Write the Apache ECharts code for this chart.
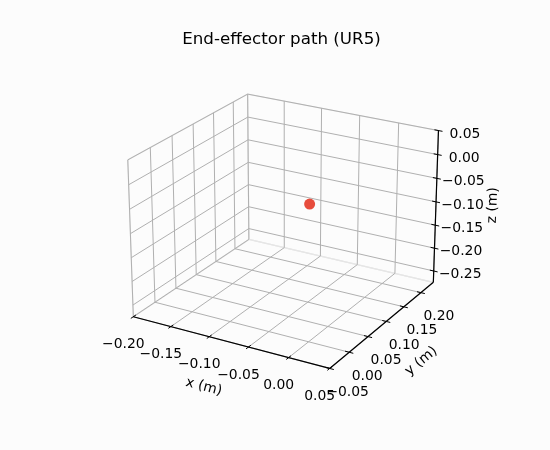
<!DOCTYPE html>
<html><head><meta charset="utf-8">
<script src="https://cdn.jsdelivr.net/npm/echarts@6/dist/echarts.min.js"></script>
<style>html,body{margin:0;padding:0;background:#fcfcfc}#c{width:550px;height:450px}</style>
</head><body><div id="c"></div>
<script>
// ---- chart content ----
const titleText = 'End-effector path (UR5)';
const xAxisName = 'x (m)', yAxisName = 'y (m)', zAxisName = 'z (m)';
const xLimits = [-0.20, 0.05];
const yLimits = [-0.05, 0.2375];
const zLimits = [-0.275, 0.05];
const xTicks = [-0.20, -0.15, -0.10, -0.05, 0.00, 0.05];
const xTickLabels = ['\u22120.20', '\u22120.15', '\u22120.10', '\u22120.05', '0.00', '0.05'];
const yTicks = [-0.05, 0.00, 0.05, 0.10, 0.15, 0.20];
const yTickLabels = ['\u22120.05', '0.00', '0.05', '0.10', '0.15', '0.20'];
const zTicks = [-0.25, -0.20, -0.15, -0.10, -0.05, 0.00, 0.05];
const zTickLabels = ['\u22120.25', '\u22120.20', '\u22120.15', '\u22120.10', '\u22120.05', '0.00', '0.05'];
// end-effector path samples (x, y, z)
const pathX = [-0.058];
const pathY = [0.12];
const pathZ = [-0.08];

// ---- view / layout ----
const ELEV = 23, AZIM = -60, DIST = 10;
const W = 550, H = 450, CX = 286.3, CY = 223.4, SCALE = 1876.3;
const FONT = 'DejaVu Sans';

const er = ELEV * Math.PI / 180, ar = AZIM * Math.PI / 180;
const U = [-Math.sin(ar), Math.cos(ar), 0];
const V = [-Math.sin(er) * Math.cos(ar), -Math.sin(er) * Math.sin(ar), Math.cos(er)];
const Wd = [Math.cos(er) * Math.cos(ar), Math.cos(er) * Math.sin(ar), Math.sin(er)];
const asp = [4, 4, 3];
const kk = 1.8294640721620434 * 25 / 24 / Math.hypot(asp[0], asp[1], asp[2]);
const B = asp.map(v => v * kk);
const dot = (a, b) => a[0] * b[0] + a[1] * b[1] + a[2] * b[2];
function proj(x, y, z) {
  const q = [
    ((x - xLimits[0]) / (xLimits[1] - xLimits[0]) - 0.5) * B[0],
    ((y - yLimits[0]) / (yLimits[1] - yLimits[0]) - 0.5) * B[1],
    ((z - zLimits[0]) / (zLimits[1] - zLimits[0]) - 0.5) * B[2]
  ];
  const d = DIST - dot(q, Wd);
  return [dot(q, U) / d, dot(q, V) / d];
}

const [x0, x1] = xLimits, [y0, y1] = yLimits, [z0, z1] = zLimits;
const rx = x1 - x0, ry = y1 - y0, rz = z1 - z0;
const STYLES = [
  { stroke: '#e6e6e6', lineWidth: 1.2 },   // 0 pane edge
  { stroke: '#b0b0b0', lineWidth: 1.0 },   // 1 grid
  { stroke: '#000000', lineWidth: 1.2 },   // 2 axis line
  { stroke: '#000000', lineWidth: 1.0 }    // 3 tick
];
const segs = [];
function seg(style, a, b) { const p = proj(...a), q = proj(...b); segs.push([p[0], p[1], q[0], q[1], style]); }
function poly(style, pts) { for (let i = 0; i < pts.length - 1; i++) seg(style, pts[i], pts[i + 1]); }

// panes (floor, left wall x=x0, back wall y=y1)
poly(0, [[x0, y0, z0], [x1, y0, z0], [x1, y1, z0], [x0, y1, z0], [x0, y0, z0]]);
poly(0, [[x0, y0, z0], [x0, y1, z0], [x0, y1, z1], [x0, y0, z1], [x0, y0, z0]]);
poly(0, [[x0, y1, z0], [x1, y1, z0], [x1, y1, z1], [x0, y1, z1], [x0, y1, z0]]);
// grid lines
xTicks.forEach(x => poly(1, [[x, y0, z0], [x, y1, z0], [x, y1, z1]]));
yTicks.forEach(y => poly(1, [[x1, y, z0], [x0, y, z0], [x0, y, z1]]));
zTicks.forEach(z => poly(1, [[x0, y0, z], [x0, y1, z], [x1, y1, z]]));
// axis lines
seg(2, [x0, y0, z0], [x1, y0, z0]);
seg(2, [x1, y0, z0], [x1, y1, z0]);
seg(2, [x1, y1, z0], [x1, y1, z1]);
// ticks
const TIN = 0.02, TOUT = 0.02;
xTicks.forEach(x => seg(3, [x, y0 + TIN * ry, z0], [x, y0 - TOUT * ry, z0]));
yTicks.forEach(y => seg(3, [x1 - TIN * rx, y, z0], [x1 + TOUT * rx, y, z0]));
zTicks.forEach(z => seg(3, [x1 - TIN * rx, y1, z], [x1 + TOUT * rx, y1, z]));

// labels
const labels = [];
function angleOf(a, b) {
  const p = proj(...a), q = proj(...b);
  let ang = Math.atan2(q[1] - p[1], q[0] - p[0]) * 180 / Math.PI;
  if (ang > 90) ang -= 180; if (ang <= -90) ang += 180;
  return ang * Math.PI / 180;
}
xTicks.forEach((x, i) => labels.push({ p: proj(x, y0, z0), dx: -10, dy: 28, rot: 0, text: xTickLabels[i] }));
yTicks.forEach((y, i) => labels.push({ p: proj(x1, y, z0), dx: 18, dy: 24, rot: 0, text: yTickLabels[i] }));
zTicks.forEach((z, i) => labels.push({ p: proj(x1, y1, z), dx: 26.5, dy: 3.5, rot: 0, text: zTickLabels[i] }));
labels.push({ p: proj((x0 + x1) / 2, y0, z0), dx: -25, dy: 45, rot: angleOf([x0, y0, z0], [x1, y0, z0]), text: xAxisName });
labels.push({ p: proj(x1, (y0 + y1) / 2, z0), dx: 37.3, dy: 37.8, rot: angleOf([x1, y0, z0], [x1, y1, z0]), text: yAxisName });
labels.push({ p: proj(x1, y1, (z0 + z1) / 2), dx: 57, dy: -2.5, rot: angleOf([x1, y1, z0], [x1, y1, z1]), text: zAxisName });

const pathPts = pathX.map((x, i) => proj(x, pathY[i], pathZ[i]));

const chart = echarts.init(document.getElementById('c'), null, { renderer: 'canvas' });
chart.setOption({
  animation: false,
  backgroundColor: '#fcfcfc',
  grid: { left: 0, right: 0, top: 0, bottom: 0 },
  xAxis: { type: 'value', min: -CX / SCALE, max: (W - CX) / SCALE, show: false },
  yAxis: { type: 'value', min: (CY - H) / SCALE, max: CY / SCALE, show: false },
  graphic: [{
    type: 'text', x: 281.5, y: 40,
    style: { text: titleText, font: '16.7px "DejaVu Sans"', fill: '#000', align: 'center', verticalAlign: 'middle' }
  }],
  series: [
    {
      type: 'custom', clip: false, z: 1,
      encode: { x: [0, 2], y: [1, 3] },
      data: segs,
      renderItem: (params, api) => {
        const a = api.coord([api.value(0), api.value(1)]);
        const b = api.coord([api.value(2), api.value(3)]);
        const s = STYLES[api.value(4)];
        return { type: 'line', shape: { x1: a[0], y1: a[1], x2: b[0], y2: b[1] }, style: { stroke: s.stroke, lineWidth: s.lineWidth } };
      }
    },
    {
      type: 'custom', clip: false, z: 2,
      encode: { x: 0, y: 1 },
      data: labels.map((l, i) => [l.p[0], l.p[1], i]),
      renderItem: (params, api) => {
        const l = labels[api.value(2)];
        const c = api.coord([api.value(0), api.value(1)]);
        return {
          type: 'text', x: c[0] + l.dx, y: c[1] + l.dy, rotation: l.rot,
          style: { text: l.text, font: '13.9px "DejaVu Sans"', fill: '#000', align: 'center', verticalAlign: 'middle' }
        };
      }
    },
    {
      type: 'scatter', z: 3,
      data: pathPts,
      symbol: 'circle', symbolSize: 11,
      itemStyle: { color: '#e74c3c', opacity: 1 }
    }
  ]
});
</script></body></html>
